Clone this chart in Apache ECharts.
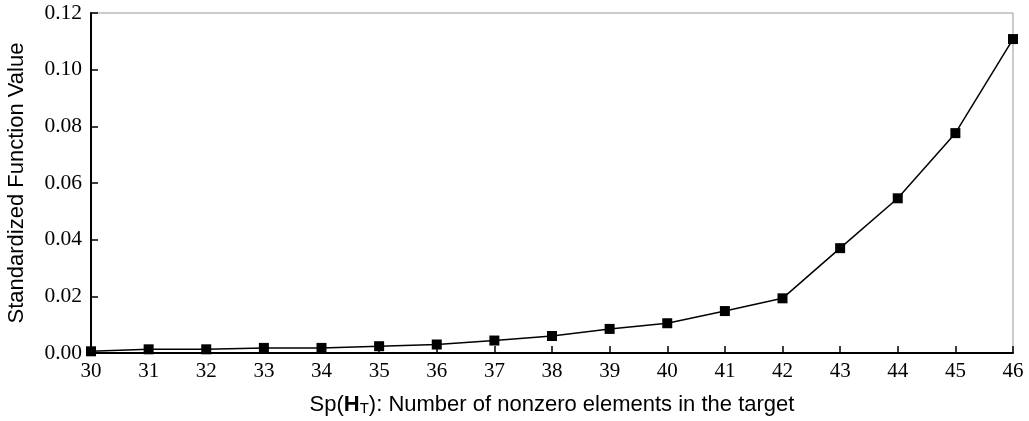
<!DOCTYPE html>
<html>
<head>
<meta charset="utf-8">
<script src="https://cdn.jsdelivr.net/npm/echarts@6/dist/echarts.min.js"></script>
<style>html,body{margin:0;padding:0;background:#fff}#c{width:1029px;height:421px}</style>
</head>
<body>
<div id="c"></div>
<script>
const sparsity = [30,31,32,33,34,35,36,37,38,39,40,41,42,43,44,45,46];
const funcValues = [0.0006,0.0013,0.0013,0.0018,0.0018,0.0024,0.0030,0.0044,0.0060,0.0085,0.0105,0.0148,0.0193,0.0370,0.0546,0.0776,0.1108];
const yTicks = [0,0.02,0.04,0.06,0.08,0.10,0.12];

const chart = echarts.init(document.getElementById('c'), null, {renderer:'canvas'});
chart.setOption({
  animation:false,
  backgroundColor:'#fff',
  grid:{left:91,right:16,top:13,bottom:68,outerBoundsMode:'none',containLabel:false,show:true,borderColor:'#999',borderWidth:1,backgroundColor:'transparent'},
  xAxis:{
    type:'value',min:30,max:46,interval:1,
    name:'{n|Sp(}{b|H}{s|T}{n|): Number of nonzero elements in the target}',
    nameLocation:'middle',nameGap:41,
    nameTextStyle:{rich:{
      n:{fontFamily:'Liberation Sans',fontSize:22,color:'#000'},
      b:{fontFamily:'Liberation Sans',fontSize:22,fontWeight:'bold',color:'#000'},
      s:{fontFamily:'Liberation Sans',fontSize:15,color:'#000',verticalAlign:'bottom',padding:[7,0,0,0]}
    }},
    axisLine:{show:true,lineStyle:{color:'#000',width:2}},
    axisTick:{show:true,inside:true,length:7,lineStyle:{color:'#000',width:1.5}},
    axisLabel:{fontFamily:'Liberation Serif',fontSize:21,color:'#000',margin:8},
    splitLine:{show:false}
  },
  yAxis:{
    type:'value',min:0,max:0.12,interval:0.02,
    name:'Standardized Function Value',
    nameLocation:'middle',nameGap:63,
    nameTextStyle:{fontFamily:'Liberation Sans',fontSize:22,color:'#000'},
    axisLine:{show:true,lineStyle:{color:'#000',width:2}},
    axisTick:{show:true,inside:true,length:7,lineStyle:{color:'#000',width:1.5}},
    axisLabel:{fontFamily:'Liberation Serif',fontSize:21.5,color:'#000',margin:9,
      formatter:v=>{const t=yTicks.find(x=>Math.abs(x-v)<1e-9);return (t!==undefined?t:v).toFixed(2);}},
    splitLine:{show:false}
  },
  series:[{
    type:'line',
    data:sparsity.map((x,i)=>[x,funcValues[i]]),
    symbol:'rect',symbolSize:10,
    lineStyle:{color:'#000',width:1.5},
    itemStyle:{color:'#000'},
    clip:false
  }]
});
</script>
</body>
</html>
